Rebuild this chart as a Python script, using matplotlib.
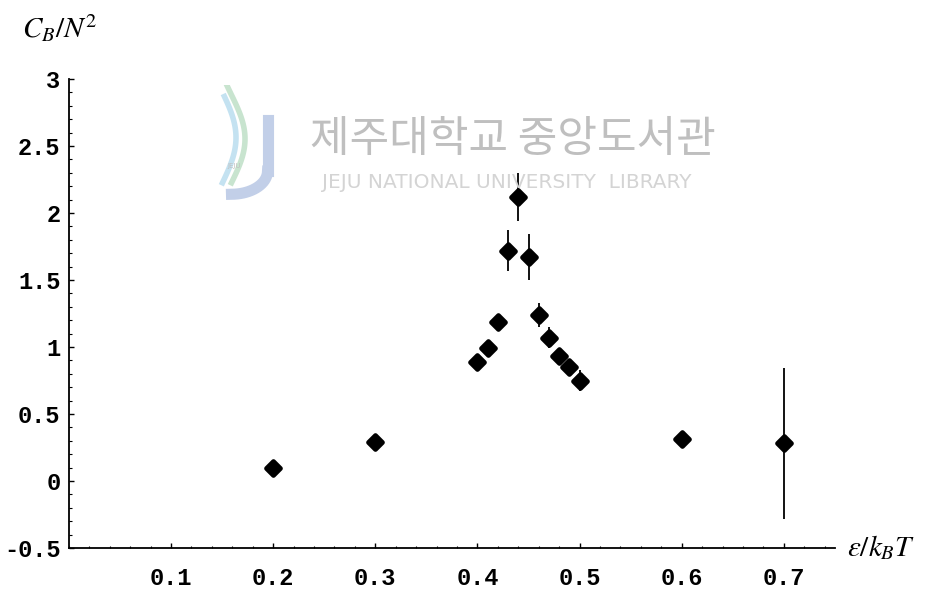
import matplotlib
matplotlib.use("Agg")
import matplotlib.pyplot as plt
from matplotlib.ticker import MultipleLocator, FixedLocator
from matplotlib.markers import MarkerStyle
import numpy as np

# data
x_vals = [0.20, 0.30, 0.40, 0.41, 0.42, 0.43, 0.44, 0.45, 0.46, 0.47, 0.48, 0.49, 0.50, 0.60, 0.70]
y_vals = [0.10, 0.29, 0.89, 0.99, 1.19, 1.72, 2.12, 1.67, 1.24, 1.07, 0.93, 0.85, 0.75, 0.31, 0.28]
y_err = [0.02, 0.03, 0.03, 0.03, 0.04, 0.15, 0.18, 0.17, 0.09, 0.08, 0.06, 0.06, 0.08, 0.03, 0.56]
x_ticks = [0.1, 0.2, 0.3, 0.4, 0.5, 0.6, 0.7]
x_ticklabels = ["0.1", "0.2", "0.3", "0.4", "0.5", "0.6", "0.7"]
y_ticks = [-0.5, 0, 0.5, 1, 1.5, 2, 2.5, 3]
y_ticklabels = ["-0.5", "0", "0.5", "1", "1.5", "2", "2.5", "3"]

plt.rcParams["mathtext.fontset"] = "stix"

W, H = 934, 595
fig = plt.figure(figsize=(W / 100, H / 100), dpi=100)
x0, x1 = 68.8, 835
yt, yb = 79, 548
ax = fig.add_axes([x0 / W, 1 - yb / H, (x1 - x0) / W, (yb - yt) / H])
ax.set_xlim(0, 0.75)
ax.set_ylim(-0.5, 3)

# watermark
fig.text(310 / W, 1 - 140 / H, "제주대학교 중앙도서관", family=["Noto Sans CJK KR"],
         fontsize=31, color="#bfbfbf", va="center", ha="left")
fig.text(322 / W, 1 - 182 / H, "JEJU NATIONAL UNIVERSITY  LIBRARY", family=["DejaVu Sans"],
         fontsize=14.5, color="#d4d4d4", va="center", ha="left")
# simple logo approximation
lax = fig.add_axes([200 / W, 1 - 200 / H, 90 / W, 115 / H])
lax.set_xlim(0, 1); lax.set_ylim(0, 1); lax.axis("off")
t = np.linspace(0, 1, 50)
lax.plot(0.35 + 0.15 * np.sin(t * 3.5), 0.15 + 0.85 * t, color="#c8e4cf", lw=4)
lax.plot(0.25 + 0.15 * np.sin(t * 3.0), 0.15 + 0.75 * t, color="#c4e2f1", lw=4)
lax.plot([0.75, 0.75], [0.25, 0.7], color="#c2cfe8", lw=8)
lax.plot(0.75 - 0.4 * (1 - np.cos(np.linspace(0, np.pi / 2, 20))),
         0.25 - 0.2 * np.sin(np.linspace(0, np.pi / 2, 20)), color="#c2cfe8", lw=8)
lax.text(0.38, 0.28, "JEJU", fontsize=5, color="#c0c0c0", ha="center")

ax.errorbar(x_vals, y_vals, yerr=y_err, fmt="none", ecolor="black", elinewidth=1.3, capsize=0, zorder=3)
ax.plot(x_vals, y_vals, linestyle="none", marker=MarkerStyle("D", joinstyle="round"),
        markersize=7.6, color="black", markeredgewidth=3.4, markeredgecolor="black", zorder=4)

for s in ["top", "right"]:
    ax.spines[s].set_visible(False)
for s in ["left", "bottom"]:
    ax.spines[s].set_linewidth(1.3)

mono = dict(family="Liberation Mono", weight="bold", size=17)
ax.xaxis.set_major_locator(FixedLocator(x_ticks))
ax.set_xticklabels(x_ticklabels, fontdict=mono)
ax.yaxis.set_major_locator(FixedLocator(y_ticks))
ax.set_yticklabels(y_ticklabels, fontdict=mono)
ax.xaxis.set_minor_locator(MultipleLocator(0.02))
ax.yaxis.set_minor_locator(MultipleLocator(0.1))
ax.tick_params(axis="both", which="major", direction="in", length=3.5, width=1.0)
ax.tick_params(axis="both", which="minor", direction="in", length=1.8, width=0.8)
ax.tick_params(axis="x", which="major", pad=14)
ax.tick_params(axis="y", which="major", pad=6)

fig.text(22 / W, 1 - 28 / H, r"$C_B/N^2$", fontsize=21, va="center", ha="left")
fig.text(847 / W, 1 - 548 / H, r"$\varepsilon/k_B T$", fontsize=21, va="center", ha="left")

fig.savefig("out.png", dpi=100, facecolor="white")
